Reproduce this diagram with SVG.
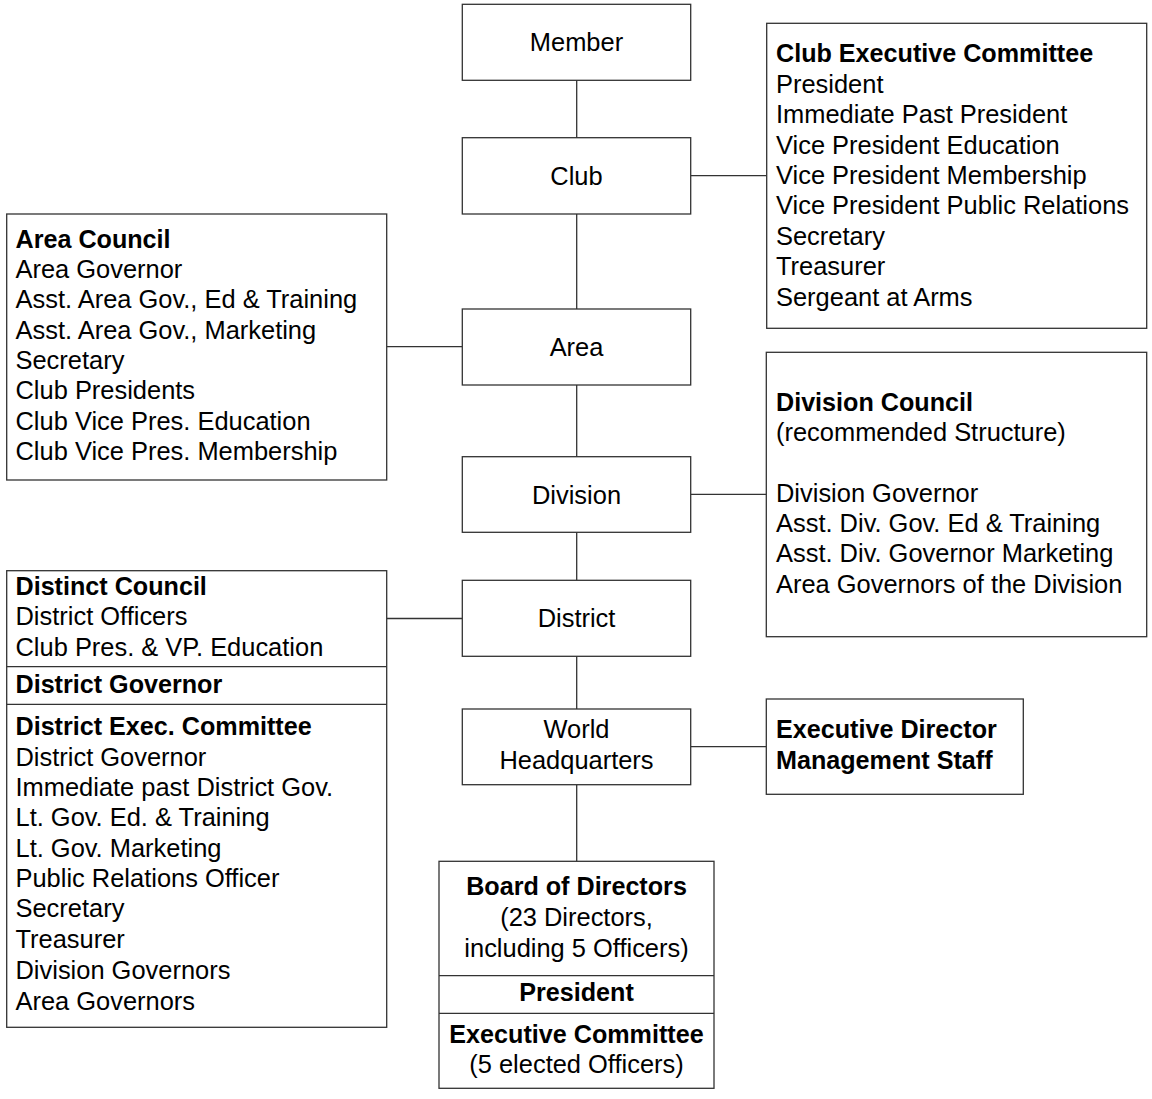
<svg xmlns="http://www.w3.org/2000/svg" width="1152" height="1099" viewBox="0 0 1152 1099">
<style>
.box{fill:#fff;stroke:#333;stroke-width:1.3}
.ln{stroke:#333;stroke-width:1.3;fill:none}
text{font-family:"Liberation Sans",Arial,sans-serif;font-size:25.45px;fill:#000}
.b{font-weight:bold;font-size:25.15px}
.c{text-anchor:middle}
</style>
<rect width="1152" height="1099" fill="#fff"/>
<g id="connectors">
<line class="ln" x1="576.7" y1="80" x2="576.7" y2="138"/>
<line class="ln" x1="576.7" y1="214" x2="576.7" y2="309"/>
<line class="ln" x1="576.7" y1="385" x2="576.7" y2="457"/>
<line class="ln" x1="576.7" y1="532" x2="576.7" y2="580"/>
<line class="ln" x1="576.7" y1="656" x2="576.7" y2="709"/>
<line class="ln" x1="576.7" y1="785" x2="576.7" y2="861"/>
<line class="ln" x1="691" y1="175.7" x2="766.7" y2="175.7"/>
<line class="ln" x1="387" y1="346.7" x2="462" y2="346.7"/>
<line class="ln" x1="691" y1="494.3" x2="766.3" y2="494.3"/>
<line class="ln" x1="387" y1="618.5" x2="462" y2="618.5"/>
<line class="ln" x1="691" y1="746.7" x2="766.3" y2="746.7"/>
</g>
<g id="member"><rect class="box" x="462.3" y="4.3" width="228.4" height="76"/><text class="c" x="576.5" y="50.7">Member</text></g>
<g id="club"><rect class="box" x="462.3" y="137.7" width="228.4" height="76.3"/><text class="c" x="576.5" y="185">Club</text></g>
<g id="area"><rect class="box" x="462.3" y="309" width="228.4" height="76"/><text class="c" x="576.5" y="356">Area</text></g>
<g id="division"><rect class="box" x="462.3" y="456.7" width="228.4" height="75.6"/><text class="c" x="576.5" y="503.5">Division</text></g>
<g id="district"><rect class="box" x="462.3" y="580.3" width="228.4" height="76"/><text class="c" x="576.5" y="627.3">District</text></g>
<g id="whq"><rect class="box" x="462.3" y="709" width="228.4" height="75.7"/><text class="c" x="576.5" y="738.3">World</text><text class="c" x="576.5" y="769.3">Headquarters</text></g>
<g id="club-exec"><rect class="box" x="766.7" y="23.3" width="380" height="305"/>
<text class="b" x="776" y="62.3">Club Executive Committee</text>
<text x="776" y="92.8">President</text>
<text x="776" y="123.2">Immediate Past President</text>
<text x="776" y="153.6">Vice President Education</text>
<text x="776" y="184">Vice President Membership</text>
<text x="776" y="214.4">Vice President Public Relations</text>
<text x="776" y="244.8">Secretary</text>
<text x="776" y="275.2">Treasurer</text>
<text x="776" y="305.6">Sergeant at Arms</text>
</g>
<g id="area-council"><rect class="box" x="6.7" y="214" width="380" height="266"/>
<text class="b" x="15.5" y="247.7">Area Council</text>
<text x="15.5" y="278">Area Governor</text>
<text x="15.5" y="308.4">Asst. Area Gov., Ed &amp; Training</text>
<text x="15.5" y="338.7">Asst. Area Gov., Marketing</text>
<text x="15.5" y="369">Secretary</text>
<text x="15.5" y="399.3">Club Presidents</text>
<text x="15.5" y="429.6">Club Vice Pres. Education</text>
<text x="15.5" y="460">Club Vice Pres. Membership</text>
</g>
<g id="division-council"><rect class="box" x="766.3" y="352.3" width="380.4" height="284.4"/>
<text class="b" x="776" y="410.7">Division Council</text>
<text x="776" y="441">(recommended Structure)</text>
<text x="776" y="501.7">Division Governor</text>
<text x="776" y="531.9">Asst. Div. Gov. Ed &amp; Training</text>
<text x="776" y="562.3">Asst. Div. Governor Marketing</text>
<text x="776" y="592.8">Area Governors of the Division</text>
</g>
<g id="district-council"><rect class="box" x="6.7" y="570.7" width="380" height="456.6"/>
<line class="ln" x1="6.7" y1="666.7" x2="386.7" y2="666.7"/>
<line class="ln" x1="6.7" y1="704.3" x2="386.7" y2="704.3"/>
<text class="b" x="15.5" y="595">Distinct Council</text>
<text x="15.5" y="625.4">District Officers</text>
<text x="15.5" y="656.3">Club Pres. &amp; VP. Education</text>
<text class="b" x="15.5" y="692.7">District Governor</text>
<text class="b" x="15.5" y="735">District Exec. Committee</text>
<text x="15.5" y="765.6">District Governor</text>
<text x="15.5" y="796">Immediate past District Gov.</text>
<text x="15.5" y="826.3">Lt. Gov. Ed. &amp; Training</text>
<text x="15.5" y="856.7">Lt. Gov. Marketing</text>
<text x="15.5" y="887.1">Public Relations Officer</text>
<text x="15.5" y="917.4">Secretary</text>
<text x="15.5" y="947.8">Treasurer</text>
<text x="15.5" y="978.8">Division Governors</text>
<text x="15.5" y="1009.6">Area Governors</text>
</g>
<g id="exec-director"><rect class="box" x="766.3" y="699" width="257" height="95.3"/>
<text class="b" x="776" y="738.3">Executive Director</text>
<text class="b" x="776" y="769.3">Management Staff</text>
</g>
<g id="board"><rect class="box" x="439" y="861.3" width="275" height="227"/>
<line class="ln" x1="439" y1="975.7" x2="714" y2="975.7"/>
<line class="ln" x1="439" y1="1013.3" x2="714" y2="1013.3"/>
<text class="b c" x="576.5" y="895">Board of Directors</text>
<text class="c" x="576.5" y="926">(23 Directors,</text>
<text class="c" x="576.5" y="956.7">including 5 Officers)</text>
<text class="b c" x="576.5" y="1001">President</text>
<text class="b c" x="576.5" y="1043.3">Executive Committee</text>
<text class="c" x="576.5" y="1073.3">(5 elected Officers)</text>
</g>
</svg>
